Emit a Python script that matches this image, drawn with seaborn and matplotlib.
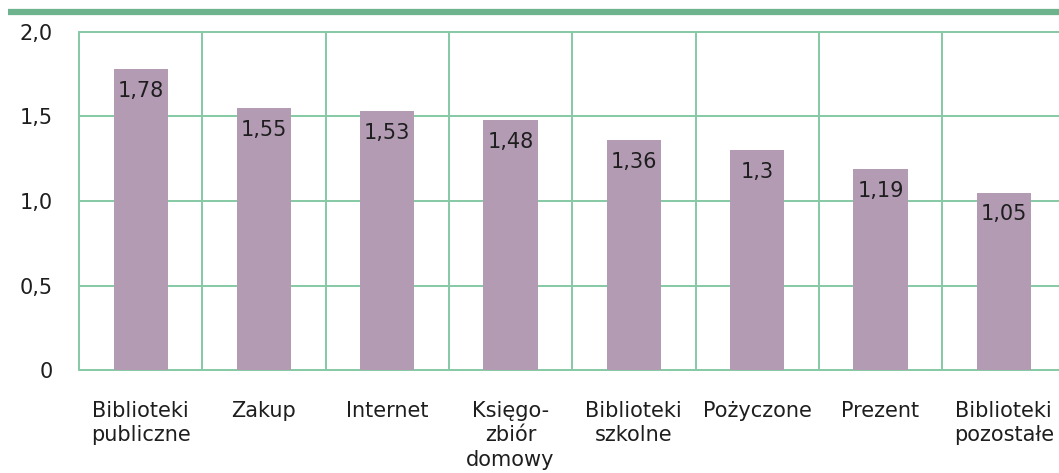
import matplotlib
matplotlib.use("Agg")
import matplotlib.pyplot as plt
import seaborn as sns
import pandas as pd

categories = ["Biblioteki\npubliczne", "Zakup", "Internet", "Księgo-\nzbiór\ndomowy",
              "Biblioteki\nszkolne", "Pożyczone", "Prezent", "Biblioteki\npozostałe"]
values = [1.78, 1.55, 1.53, 1.48, 1.36, 1.3, 1.19, 1.05]
value_labels = ["1,78", "1,55", "1,53", "1,48", "1,36", "1,3", "1,19", "1,05"]
yticks = [0, 0.5, 1.0, 1.5, 2.0]
ytick_labels = ["0", "0,5", "1,0", "1,5", "2,0"]

df = pd.DataFrame({"kat": categories, "val": values})

sns.set_style("white")
plt.rcParams["font.family"] = ["DejaVu Sans"]

green = "#86c9a4"
bar_color = "#b39bb4"
txt = "#1e1e1e"

fig = plt.figure(figsize=(10.59, 4.73), dpi=100)
ax = fig.add_axes([79 / 1059, 103 / 473, 8 * 123.3 / 1059, 338 / 473])

sns.barplot(data=df, x="kat", y="val", color=bar_color, width=0.44,
            saturation=1, ax=ax, zorder=3, edgecolor="none", linewidth=0)

ax.set_xlim(-0.5, len(categories) - 0.5)
ax.set_ylim(0, 2.0)
ax.set_yticks(yticks)
ax.set_yticklabels(ytick_labels, fontsize=15, color=txt)
ax.set_xticks(range(len(categories)))
ax.set_xticklabels(categories, fontsize=15, color=txt, va="top", linespacing=1.3)
ax.set_xlabel("")
ax.set_ylabel("")
ax.tick_params(axis="both", length=0)
ax.tick_params(axis="y", pad=19)
ax.tick_params(axis="x", pad=22)

# grid: horizontal at ticks, vertical between categories
for y in yticks:
    ax.axhline(y, color=green, lw=1.4, zorder=1, clip_on=False)
for i in range(len(categories) + 1):
    ax.axvline(i - 0.5, color=green, lw=1.4, zorder=1, clip_on=False)
for s in ax.spines.values():
    s.set_visible(False)

ax.bar_label(ax.containers[0], labels=value_labels, padding=-23, fontsize=15,
             color=txt)

# thick line on top
fig.add_artist(plt.Line2D([8 / 1059, 1.0], [1 - 12 / 473, 1 - 12 / 473],
                          color="#6db38e", lw=4.5, solid_capstyle="butt",
                          transform=fig.transFigure))

fig.savefig("out.png", dpi=100)
